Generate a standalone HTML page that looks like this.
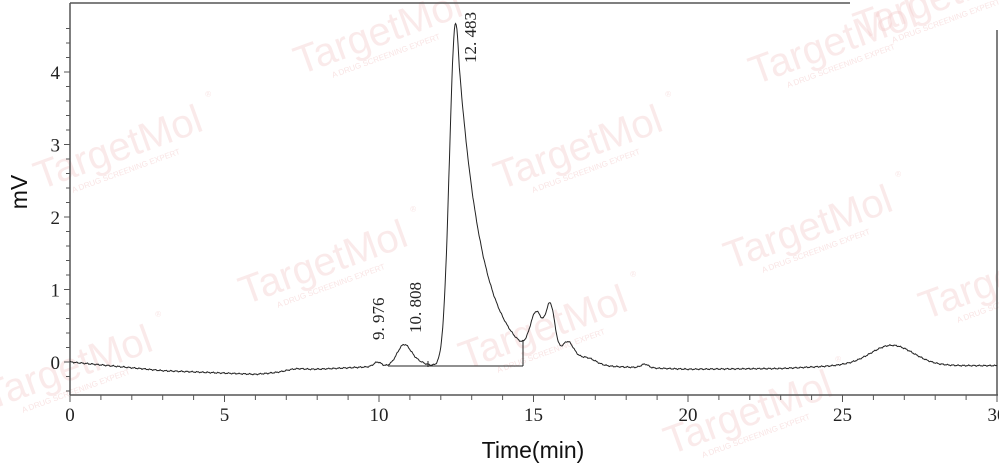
<!DOCTYPE html>
<html><head><meta charset="utf-8"><style>
html,body{margin:0;padding:0;background:#fff;width:999px;height:467px;overflow:hidden}
svg{display:block}
.wm{font-family:"Liberation Sans",sans-serif;font-size:40px;fill:#f3caca;opacity:0.38}
.wm2{font-family:"Liberation Sans",sans-serif;font-size:8px;fill:#f3caca;opacity:0.5}
.tl{font-family:"Liberation Serif",serif;font-size:19px;fill:#222}
.pk{font-family:"Liberation Serif",serif;font-size:17px;fill:#222}
</style></head><body>
<svg id="s" width="999" height="467" viewBox="0 0 999 467" xmlns="http://www.w3.org/2000/svg">
<g id="wm"></g>
<g stroke="#555" stroke-width="1.5" fill="none">
<line x1="70" y1="3" x2="70" y2="395"/>
<line x1="70" y1="395" x2="998" y2="395"/>
<line x1="70" y1="3" x2="850" y2="3"/>
<line x1="997" y1="30" x2="997" y2="395"/>
</g>
<g id="ticks" stroke="#555" stroke-width="1"></g>
<g id="labels"></g>
<path id="tr" fill="none" stroke="#222" stroke-width="1"/>
<g stroke="#222" stroke-width="1">
<line x1="388" y1="366" x2="523" y2="366"/>
<line x1="523" y1="366" x2="523" y2="340"/>
<line x1="428" y1="361" x2="428" y2="367"/>
</g>
<text class="pk" transform="translate(384,340) rotate(-90)">9. 976</text>
<text class="pk" transform="translate(421,333) rotate(-90)">10. 808</text>
<text class="pk" transform="translate(476,63) rotate(-90)">12. 483</text>
<text x="533" y="458" text-anchor="middle" font-family="Liberation Sans,sans-serif" font-size="23" fill="#111">Time(min)</text>
<text transform="translate(27,192) rotate(-90)" text-anchor="middle" font-family="Liberation Sans,sans-serif" font-size="23" fill="#111">mV</text>
</svg>
<script>
var X=function(t){return 70+t*30.9},Y=function(v){return 362-v*72.5};
var NS="http://www.w3.org/2000/svg";
function el(p,n,a,txt){var e=document.createElementNS(NS,n);for(var k in a)e.setAttribute(k,a[k]);if(txt)e.textContent=txt;p.appendChild(e);return e;}
var tk=document.getElementById('ticks'),lb=document.getElementById('labels');
for(var t=0;t<=30;t++){var x=X(t);el(tk,'line',{x1:x,y1:395,x2:x,y2:t%5==0?402:400});
 if(t%5==0)el(lb,'text',{x:x,y:421,'text-anchor':'middle','class':'tl'},String(t));}
for(var i=-2;i<=23;i++){var v=i*0.2,y=Y(v);var maj=i%5==0;el(tk,'line',{x1:maj?64:66,y1:y,x2:70,y2:y});
 if(maj)el(lb,'text',{x:60,y:y+7,'text-anchor':'end','class':'tl'},String(i/5));}
var bp=[[0,0],[3,-0.12],[6,-0.17],[8,-0.1],[10,-0.06],[14,-0.04],[17,-0.06],[20,-0.1],[23,-0.09],[25,-0.05],[30,-0.05]];
function base(t){for(var i=0;i<bp.length-1;i++){if(t<=bp[i+1][0]){var a=bp[i],b=bp[i+1];return a[1]+(b[1]-a[1])*(t-a[0])/(b[0]-a[0]);}}return -0.05;}
function g(t,c,h,s){var d=(t-c)/s;return h*Math.exp(-d*d/2);}
var pks=[[7.3,0.03,0.3],[9.95,0.06,0.12],[10.8,0.28,0.22],[11.2,0.06,0.25],[15.1,0.58,0.2],[15.55,0.72,0.15],[16.1,0.28,0.2],[16.7,0.1,0.3],[18.6,0.05,0.12],[26.6,0.28,0.7]];
function f(t){var v=base(t);pks.forEach(function(p){v+=g(t,p[0],p[1],p[2]);});
 var d=t-12.48;if(d<0)v+=4.72*Math.exp(-d*d/(2*0.2*0.2));else v+=Math.max(4.72*Math.exp(-d*d/(2*0.22*0.22)),4.8*Math.exp(-d/0.77));
 v+=0.006*Math.sin(t*37)+0.004*Math.sin(t*91);return v;}
var d="";for(var t=0;t<=30;t+=0.02){d+=(t==0?"M":"L")+X(t).toFixed(1)+","+Y(f(t)).toFixed(1);}
document.getElementById('tr').setAttribute('d',d);
var wm=document.getElementById('wm');
[[300,75],[755,85],[40,190],[500,190],[730,270],[245,305],[925,320],[-10,410],[465,370],[670,455],[860,40]].forEach(function(p){
 var gg=el(wm,'g',{transform:'translate('+p[0]+','+p[1]+') rotate(-20)'});
 el(gg,'text',{x:0,y:0,'class':'wm'},'TargetMol');
 el(gg,'text',{x:30,y:14,'class':'wm2'},'A DRUG SCREENING EXPERT');
 el(gg,'text',{x:188,y:-30,'class':'wm2','font-size':'14'},'®');});
</script>
</body></html>
